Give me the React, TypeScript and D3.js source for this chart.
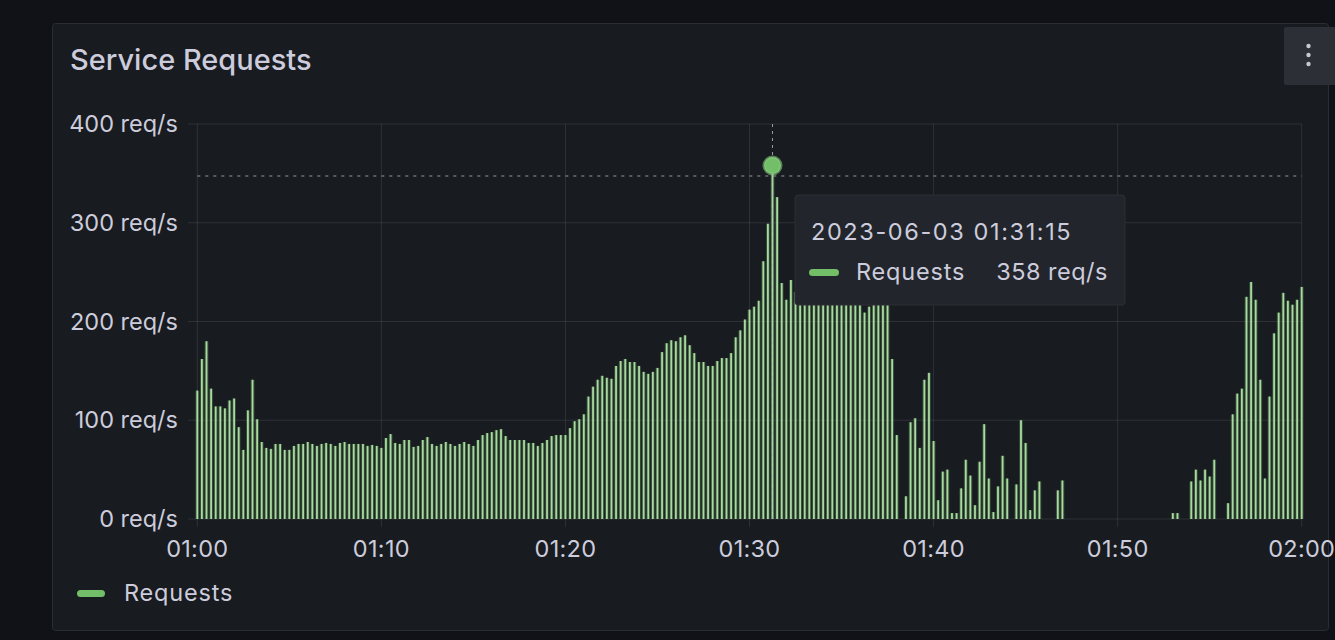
import React from "react";
import * as d3 from "d3";

// requests per second, one bar every 15 s from 01:00:00 to 02:00:00
const requests = [
  130, 162, 180, 132, 114, 114, 112, 120, 122, 93, 70, 110, 141, 101, 78, 72, 71, 76, 76, 70,
  70, 74, 76, 76, 78, 76, 74, 76, 77, 76, 74, 77, 78, 76, 76, 76, 76, 74, 75, 74,
  72, 82, 86, 77, 76, 80, 80, 73, 74, 80, 83, 76, 74, 76, 78, 76, 74, 76, 78, 76,
  74, 80, 85, 87, 88, 90, 91, 84, 80, 80, 80, 80, 77, 77, 74, 77, 80, 84, 85, 85,
  85, 92, 99, 101, 106, 124, 134, 141, 145, 143, 142, 155, 160, 162, 159, 159, 155, 149, 147, 149,
  153, 169, 178, 181, 180, 184, 186, 176, 168, 159, 159, 155, 155, 160, 163, 163, 168, 184, 191, 202,
  212, 215, 221, 261, 299, 358, 326, 239, 222, 242, 230, 236, 228, 240, 225, 232, 238, 227, 235, 229,
  241, 233, 226, 237, 231, 209, 215, 228, 234, 226, 231, 162, 85, 0, 23, 98, 102, 72, 141, 148,
  79, 19, 48, 50, 6, 6, 31, 60, 44, 14, 58, 96, 41, 7, 33, 64, 41, 0, 35, 100,
  77, 9, 29, 38, 0, 0, 0, 29, 39, 0, 0, 0, 0, 0, 0, 0, 0, 0, 0, 0,
  0, 0, 0, 0, 0, 0, 0, 0, 0, 0, 0, 0, 6, 6, 0, 0, 38, 50, 39, 50,
  43, 60, 0, 0, 16, 106, 127, 132, 225, 240, 222, 141, 41, 124, 188, 209, 229, 221, 217, 222,
  235,
];

const startTime = new Date(2023, 5, 3, 1, 0, 0);
const endTime = new Date(2023, 5, 3, 2, 0, 0);
const stepSeconds = 15;

const xTickLabels = ["01:00", "01:10", "01:20", "01:30", "01:40", "01:50", "02:00"];
const yTicks = [0, 100, 200, 300, 400];

const hoverIndex = 125;
const hoverLabel = "2023-06-03 01:31:15";
const seriesName = "Requests";

const GREEN = "#73BF69";
const TEXT = "#ccccdc";
const FONT = "Inter, 'Noto Sans', sans-serif";

export default function App() {
  const width = 1335;
  const height = 640;

  const x = d3.scaleTime().domain([startTime, endTime]).range([197.3, 1301.7]);
  const y = d3.scaleLinear().domain([0, 400]).range([519, 124]);

  const data = requests.map((v, i) => ({
    t: new Date(startTime.getTime() + i * stepSeconds * 1000),
    v,
  }));

  const xTicks = x.ticks(d3.timeMinute.every(10));
  const fmt = (v: number) => `${v} req/s`;
  const hover = data[hoverIndex];
  const hx = x(hover.t);
  const hy = y(hover.v);

  return (
    <svg
      width={width}
      height={height}
      style={{ position: "absolute", left: 0, top: 0, background: "#111217" }}
      fontFamily={FONT}
    >
      <rect x={0} y={0} width={width} height={height} fill="#111217" />
      <rect x={52.5} y={23.5} width={1276} height={607} rx={3} fill="#181b1f" stroke="#2a2d33" />

      <text x={70} y={70} fill={TEXT} fontSize={29} fontWeight={500}>
        Service Requests
      </text>

      {/* menu button */}
      <rect x={1284} y={27} width={52} height={58} rx={2} fill="#2c2f35" />
      {[46, 55, 64].map((cy) => (
        <circle key={cy} cx={1308.5} cy={cy} r={2.2} fill="#c7c8d0" />
      ))}

      {/* grid */}
      {yTicks.map((t) => (
        <g key={t}>
          <line x1={188} x2={1301.7} y1={y(t)} y2={y(t)} stroke="rgba(204,204,220,0.12)" />
          <text x={178} y={y(t) + 8} fill={TEXT} fontSize={23.5} textAnchor="end">
            {fmt(t)}
          </text>
        </g>
      ))}
      {xTicks.map((t, i) => (
        <g key={i}>
          <line x1={x(t)} x2={x(t)} y1={124} y2={527} stroke="rgba(204,204,220,0.12)" />
          <text x={x(t)} y={557} fill={TEXT} fontSize={23.5} letterSpacing={0.3} textAnchor="middle">
            {xTickLabels[i]}
          </text>
        </g>
      ))}

      {/* bars */}
      {data.map((d, i) =>
        d.v > 0 ? (
          <g key={i}>
            <rect
              x={x(d.t) - 1.9}
              width={3.8}
              y={y(d.v)}
              height={y(0) - y(d.v)}
              fill={GREEN}
              fillOpacity={0.3}
            />
            <rect
              x={x(d.t) - 0.9}
              width={1.8}
              y={y(d.v)}
              height={y(0) - y(d.v)}
              fill="#a9d9a1"
            />
          </g>
        ) : null
      )}

      {/* crosshair */}
      <line x1={hx} x2={hx} y1={124} y2={519} stroke="#b8bac4" strokeDasharray="3 4" strokeWidth={1} opacity={0.8} />
      <line x1={197.3} x2={1301.7} y1={176} y2={176} stroke="#b8bac4" strokeDasharray="3 5" strokeWidth={1} opacity={0.8} />
      <circle cx={hx} cy={hy} r={8.5} fill={GREEN} stroke="rgba(140,205,130,0.55)" strokeWidth={3} />

      {/* tooltip */}
      <rect x={795} y={195} width={330} height={110} rx={3} fill="#22252b" stroke="#2c2f35" />
      <text x={811} y={240} fill={TEXT} fontSize={23.5} letterSpacing={1.6}>
        {hoverLabel}
      </text>
      <rect x={809} y={269} width={30} height={7} rx={3.5} fill={GREEN} />
      <text x={856} y={280} fill={TEXT} fontSize={23.5} letterSpacing={0.8}>
        {seriesName}
      </text>
      <text x={1108} y={280} fill={TEXT} fontSize={23.5} letterSpacing={0.5} textAnchor="end">
        {fmt(hover.v)}
      </text>

      {/* legend */}
      <rect x={77} y={590} width={28} height={7} rx={3.5} fill={GREEN} />
      <text x={124} y={601} fill={TEXT} fontSize={23.5} letterSpacing={0.8}>
        {seriesName}
      </text>
    </svg>
  );
}
